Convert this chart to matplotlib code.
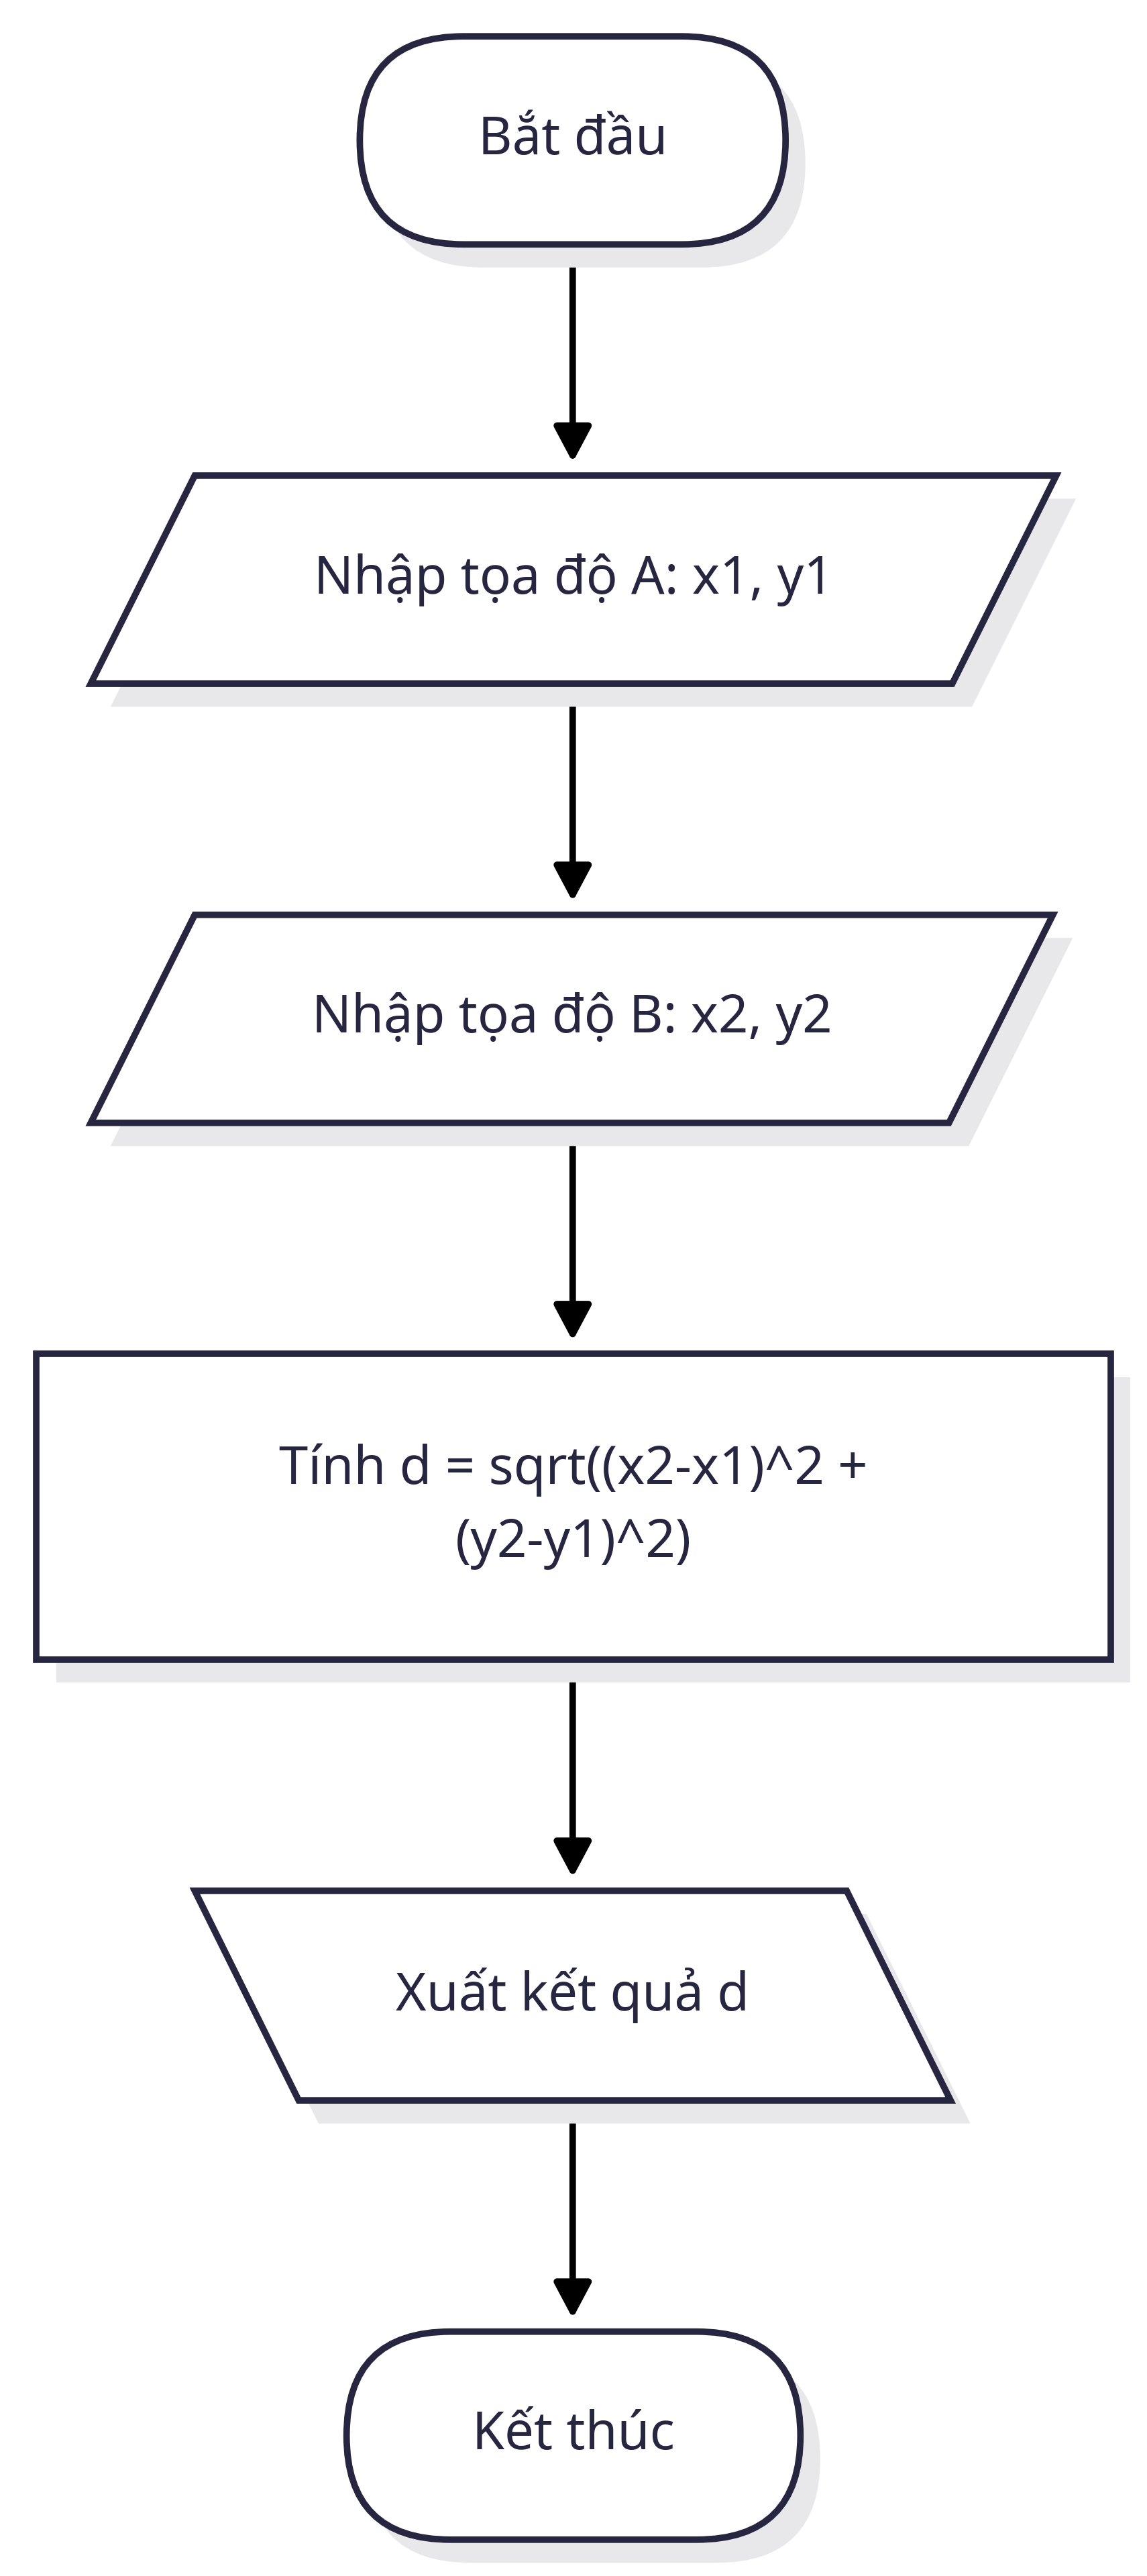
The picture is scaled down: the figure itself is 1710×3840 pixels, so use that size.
import matplotlib
matplotlib.use('Agg')
import matplotlib.pyplot as plt
from matplotlib.patches import Polygon, FancyBboxPatch

# node labels and kinds, top to bottom
labels = ['Bắt đầu', 'Nhập tọa độ A: x1, y1', 'Nhập tọa độ B: x2, y2',
          'Tính d = sqrt((x2-x1)^2 +\n(y2-y1)^2)', 'Xuất kết quả d', 'Kết thúc']
kinds = ['term', 'io', 'io', 'proc', 'io_rev', 'term']
# boxes in reference display units: (x0, x1, y0, y1)
boxes = [(218, 476, 22, 148), (55, 640, 288, 414), (55, 638, 554, 680),
         (22, 673, 820, 1005), (118, 576, 1145, 1272), (210, 485, 1412, 1538)]

edge = '#262640'
shadow = '#e8e8ea'
W, H = 695, 1560

fig = plt.figure(figsize=(17.1, 38.4), dpi=100)
ax = fig.add_axes([0, 0, 1, 1])
ax.set_xlim(0, W)
ax.set_ylim(H, 0)
ax.axis('off')

def shape(kind, x0, x1, y0, y1, dx=0, dy=0, **kw):
    x0, x1, y0, y1 = x0 + dx, x1 + dx, y0 + dy, y1 + dy
    s = 63
    if kind == 'term':
        r = (y1 - y0) / 2
        return FancyBboxPatch((x0, y0), x1 - x0, y1 - y0,
                              boxstyle=f'round,pad=0,rounding_size={r}', **kw)
    if kind == 'io':
        pts = [(x0 + s, y0), (x1, y0), (x1 - s, y1), (x0, y1)]
    elif kind == 'io_rev':
        pts = [(x0, y0), (x1 - s, y0), (x1, y1), (x0 + s, y1)]
    else:
        pts = [(x0, y0), (x1, y0), (x1, y1), (x0, y1)]
    return Polygon(pts, closed=True, **kw)

for kind, (x0, x1, y0, y1), lab in zip(kinds, boxes, labels):
    ax.add_patch(shape(kind, x0, x1, y0, y1, 12, 14, facecolor=shadow,
                       edgecolor='none', zorder=1))
    ax.add_patch(shape(kind, x0, x1, y0, y1, facecolor='white',
                       edgecolor=edge, linewidth=7, zorder=2))
    ax.text((x0 + x1) / 2, (y0 + y1) / 2, lab, ha='center', va='center',
            fontsize=56, color=edge, family=['Noto Sans', 'DejaVu Sans'],
            linespacing=1.5, zorder=3)

for a, b in zip(boxes[:-1], boxes[1:]):
    ax.annotate('', xy=(347, b[2] - 8), xytext=(347, a[3]),
                arrowprops=dict(arrowstyle='-|>,head_length=3.2,head_width=1.7',
                                color='black', lw=7, shrinkA=0, shrinkB=0),
                zorder=0)

fig.savefig('out.png', dpi=100, facecolor='white')
